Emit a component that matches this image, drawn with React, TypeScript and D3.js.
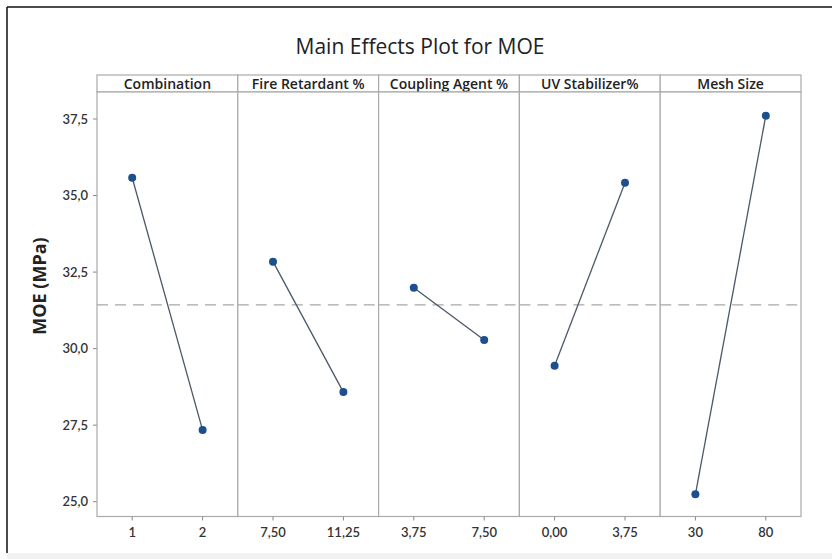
import React from "react";
import * as d3 from "d3";

// factors, their levels and the mean MOE at each level
const factors = ["Combination", "Fire Retardant %", "Coupling Agent %", "UV Stabilizer%", "Mesh Size"];
const levels = [
  ["1", "2"],
  ["7,50", "11,25"],
  ["3,75", "7,50"],
  ["0,00", "3,75"],
  ["30", "80"],
];
const means = [
  [35.58, 27.34],
  [32.84, 28.58],
  [31.99, 30.28],
  [29.44, 35.42],
  [25.24, 37.61],
];
const grandMean = 31.43;
const yTicks = [25, 27.5, 30, 32.5, 35, 37.5];

export default function App() {
  const width = 832, height = 559;
  const left = 97, right = 801, stripTop = 75, top = 92, bottom = 516.5;
  const font = "'Open Sans', Lato, sans-serif";
  const small = "Lato, 'Open Sans', sans-serif";

  const yScale = d3.scaleLinear().domain([25, 37.5]).range([501.7, 119]);

  const panel = d3.scaleBand<string>().domain(factors).range([left, right]).padding(0);
  const pw = panel.bandwidth();

  const fmt = (v: number) => v.toFixed(1).replace(".", ",");

  const line = d3.line<[number, number]>().x(d => d[0]).y(d => d[1]);

  return (
    <svg width={width} height={height} style={{ position: "absolute", left: 0, top: 0, background: "#fff" }}>
      <line x1={7} x2={7} y1={7} y2={553} stroke="#111" strokeWidth={1.5} />
      <line x1={7} x2={832} y1={7} y2={7} stroke="#111" strokeWidth={1.5} />
      <rect x={7} y={553} width={825} height={6} fill="#f2f2f2" />

      <text x={420} y={54} textAnchor="middle" fontFamily={font} fontSize={21} fill="#222">
        Main Effects Plot for MOE
      </text>

      <text transform={`translate(46,286) rotate(-90)`} textAnchor="middle"
        fontFamily={font} fontSize={18} fontWeight={700} fill="#222">
        MOE (MPa)
      </text>

      {/* y axis */}
      {yTicks.map(t => (
        <g key={t} transform={`translate(${left},${yScale(t)})`}>
          <line x1={-4} x2={0} stroke="#888" />
          <text x={-9} dy="0.35em" textAnchor="end" fontFamily={small} fontSize={13} fontWeight={600} fill="#333">
            {fmt(t)}
          </text>
        </g>
      ))}

      {factors.map((f, i) => {
        const x0 = panel(f) as number;
        const xs = d3.scalePoint<string>().domain(levels[i]).range([x0, x0 + pw]).padding(0.5);
        const pts: [number, number][] = levels[i].map((l, j) => [xs(l) as number, yScale(means[i][j])]);
        return (
          <g key={f}>
            <rect x={x0} y={stripTop} width={pw} height={top - stripTop} fill="#fff" stroke="#aaa" strokeWidth={1.2} />
            <text x={x0 + pw / 2} y={stripTop + 13.5} textAnchor="middle" fontFamily={font} fontSize={14}
              fontWeight={600} fill="#222">{f}</text>
            <rect x={x0} y={top} width={pw} height={bottom - top} fill="#fff" stroke="#aaa" strokeWidth={1.2} />
            <line x1={x0} x2={x0 + pw} y1={yScale(grandMean)} y2={yScale(grandMean)}
              stroke="#a8a8a8" strokeWidth={1.3} strokeDasharray="11,7" />
            <path d={line(pts) || ""} fill="none" stroke="#4b5868" strokeWidth={1.3} />
            {pts.map((p, j) => (
              <circle key={j} cx={p[0]} cy={p[1]} r={4} fill="#1d4f8f" />
            ))}
            {levels[i].map(l => (
              <g key={l} transform={`translate(${xs(l)},${bottom})`}>
                <line y1={0} y2={4} stroke="#888" />
                <text y={20} textAnchor="middle" fontFamily={small} fontSize={13} fontWeight={600} fill="#333">{l}</text>
              </g>
            ))}
          </g>
        );
      })}
    </svg>
  );
}
